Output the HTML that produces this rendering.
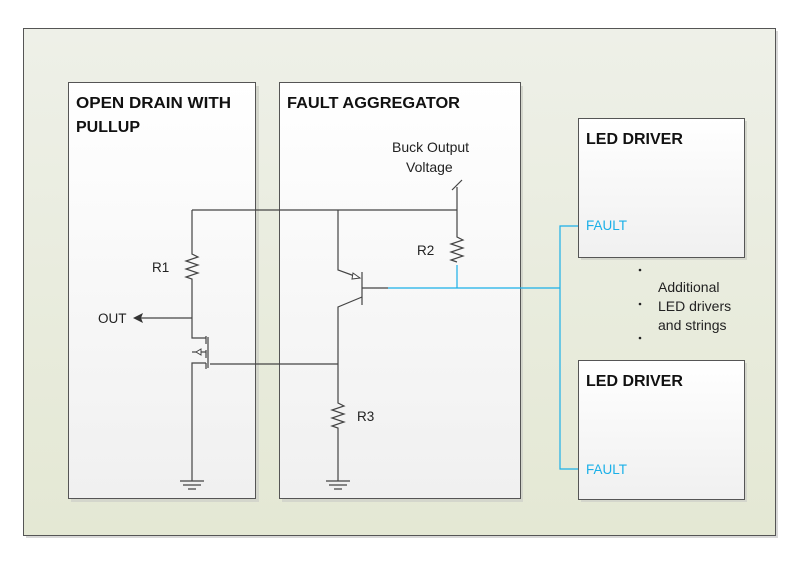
<!DOCTYPE html>
<html><head><meta charset="utf-8"><style>
html,body{margin:0;padding:0;background:#fff;width:800px;height:572px;overflow:hidden}
svg{display:block}
text{font-family:"Liberation Sans",sans-serif}
</style></head><body>
<svg width="800" height="572" viewBox="0 0 800 572" xmlns="http://www.w3.org/2000/svg">
<defs>
<linearGradient id="bg" x1="0" y1="0" x2="0" y2="1"><stop offset="0" stop-color="#eef0e8"/><stop offset="1" stop-color="#e4e8d4"/></linearGradient>
<linearGradient id="wb" x1="0" y1="0" x2="0" y2="1"><stop offset="0" stop-color="#ffffff"/><stop offset="1" stop-color="#f0f0f0"/></linearGradient>
</defs>
<rect x="26" y="31" width="752" height="507" fill="#d8d8d8"/>
<rect x="23.5" y="28.5" width="752" height="507" fill="url(#bg)" stroke="#555"/>
<g fill="#d4d6cc">
<rect x="71" y="86" width="188" height="416"/><rect x="282" y="86" width="241" height="416"/>
<rect x="581" y="121" width="166" height="139"/><rect x="581" y="363" width="166" height="139"/>
</g>
<g fill="url(#wb)" stroke="#555">
<rect x="68.5" y="82.5" width="187" height="416"/>
<rect x="279.5" y="82.5" width="241" height="416"/>
<rect x="578.5" y="118.5" width="166" height="139"/>
<rect x="578.5" y="360.5" width="166" height="139"/>
</g>
<g font-weight="bold" font-size="16" fill="#111">
<text x="76" y="108" textLength="155" lengthAdjust="spacingAndGlyphs">OPEN DRAIN WITH</text>
<text x="76" y="132">PULLUP</text>
<text x="287" y="108" textLength="173" lengthAdjust="spacingAndGlyphs">FAULT AGGREGATOR</text>
<text x="586" y="144">LED DRIVER</text>
<text x="586" y="386">LED DRIVER</text>
</g>
<g font-size="13.5" fill="#222">
<text x="392" y="152" font-size="14">Buck Output</text>
<text x="406" y="172" font-size="14">Voltage</text>
<text x="152" y="272">R1</text>
<text x="417" y="255">R2</text>
<text x="357" y="421">R3</text>
<text x="98" y="323">OUT</text>
<text x="658" y="292" font-size="14">Additional</text>
<text x="658" y="311" font-size="14">LED drivers</text>
<text x="658" y="330" font-size="14">and strings</text>
</g>
<g font-size="13.5" fill="#1ab0e8">
<text x="586" y="230">FAULT</text>
<text x="586" y="474">FAULT</text>
</g>
<g fill="#222"><circle cx="640" cy="270" r="1.3"/><circle cx="640" cy="304" r="1.3"/><circle cx="640" cy="338" r="1.3"/></g>
<g fill="none" stroke="#444" stroke-width="1.2">
<path d="M192 210 H457"/>
<path d="M192 210 V254 l6 3 -12 4 12 4 -12 4 12 4 -12 4 6 2 V338 H206"/>
<path d="M140 318 H192"/>
<path d="M206 336 V344 M206 350 V358 M206 363 V369"/>
<path d="M208 337 V368"/>
<path d="M192 352 H206"/>
<path d="M206 363 H192 V481"/>
<path d="M210 364 H338"/>
<path d="M180 481 H204 M183 485 H201 M188 489 H196"/>
<path d="M338 210 V270 l22 8"/>
<path d="M362 272 V305"/>
<path d="M362 297 L338 307 V403 l6 3 -12 4 12 4 -12 4 12 4 -12 4 6 2 V481"/>
<path d="M326 481 H350 M329 485 H347 M334 489 H342"/>
<path d="M362 288 H388"/>
<path d="M457 187 V237 l6 3 -12 4 12 4 -12 4 12 4 -12 4 6 2"/>
<path d="M452 190 L462 180"/>
</g>
<path d="M353 273 L360 278 L352 279 Z" fill="#fff" stroke="#444"/>
<path d="M133 318 L143 313 L141 318 L143 323 Z" fill="#333"/>
<path d="M196 352 L201 349 L201 355 Z" fill="#fff" stroke="#444"/>
<g fill="none" stroke="#1ab0e8" stroke-width="1.2">
<path d="M457 265 V288"/>
<path d="M388 288 H560"/>
<path d="M578 226 H560 V469 H578"/>
</g>
</svg>
</body></html>
